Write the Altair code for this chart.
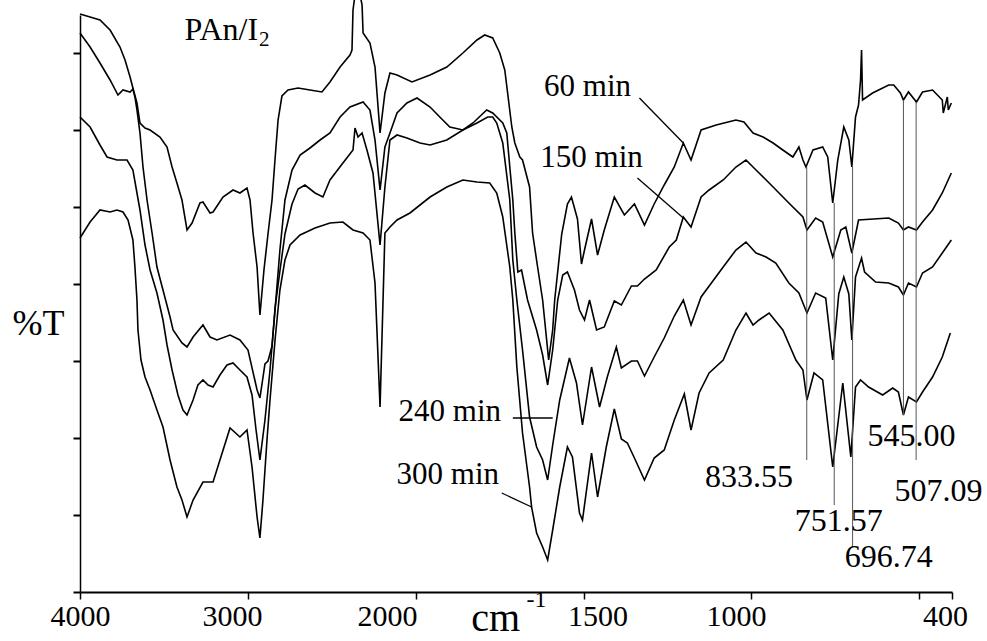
import altair as alt
import pandas as pd

# ---- data: wavenumber (cm-1), transmittance (arbitrary units of the unlabeled %T axis)
series_names = ["60 min", "150 min", "240 min", "300 min"]

s60 = [(4000,578),(3940,575),(3881,572),(3821,562),(3762,545),(3732,532),(3702,515),(3685,504),(3661,489),(3643,469),
       (3613,464),(3583,462),(3524,455),(3482,445),(3452,425),(3423,409),(3393,392),(3363,362),(3333,369),(3286,389),
       (3268,390),(3226,379),(3208,380),(3149,395),(3089,402),(3048,399),(3006,404),(2988,392),(2970,359),(2946,325),
       (2929,277),(2905,322),(2881,358),(2857,392),(2839,433),(2821,472),(2798,496),(2762,502),(2702,504),(2631,502),
       (2560,500),(2512,510),(2452,525),(2393,537),(2381,542),(2375,582),(2363,597),(2333,597),(2321,587),(2315,559),
       (2274,549),(2244,525),(2214,459),(2185,499),(2155,519),(2113,517),(2024,510),(1958,517),(1908,525),(1860,539),
       (1818,552),(1795,557),(1771,554),(1750,539),(1735,522),(1714,465),(1705,449),(1690,435),(1682,432),(1661,405),
       (1652,359),(1637,325),(1622,292),(1616,272),(1607,242),(1604,232),(1592,262),(1586,292),(1565,358),(1548,388),
       (1536,395),(1518,373),(1506,328),(1497,342),(1476,373),(1458,337),(1438,362),(1408,395),(1378,377),(1348,388),
       (1318,367),(1289,388),(1259,407),(1229,425),(1202,449),(1179,432),(1149,462),(1104,467),(1045,472),(1021,470),
       (994,459),(964,455),(934,449),(905,442),(875,435),(857,445),(845,432),(836,425),(815,442),(786,445),(771,435),
       (756,389),(741,432),(723,465),(708,452),(699,425),(688,475),(679,487),(673,512),(670,542),(667,492),(637,499),
       (589,507),(574,507),(554,499),(545,492),(530,500),(506,490),(488,500),(458,502),(429,492),(426,479),(414,495),
       (411,482),(402,489)]

s150 = [(4000,475),(3940,465),(3881,447),(3839,435),(3780,432),(3720,432),(3685,422),(3643,382),(3613,347),(3583,322),
        (3542,299),(3506,272),(3482,247),(3452,222),(3417,197),(3387,182),(3363,177),(3327,192),(3298,207),(3268,212),
        (3238,207),(3208,205),(3167,217),(3125,227),(3089,229),(3048,222),(3006,215),(2976,197),(2952,162),(2929,132),
        (2899,172),(2869,222),(2839,282),(2810,342),(2780,392),(2738,422),(2690,437),(2631,444),(2571,452),(2512,459),
        (2452,475),(2393,485),(2315,490),(2274,482),(2244,452),(2214,402),(2185,445),(2155,459),(2113,479),(2054,489),
        (1997,494),(1958,485),(1929,475),(1899,465),(1860,462),(1830,469),(1789,482),(1771,479),(1741,469),(1729,459),
        (1720,425),(1711,392),(1705,359),(1696,320),(1685,322),(1667,292),(1640,262),(1622,237),(1607,207),(1592,242),
        (1577,292),(1562,317),(1548,320),(1527,302),(1512,282),(1497,272),(1482,292),(1461,262),(1438,265),(1408,291),
        (1387,287),(1357,306),(1339,306),(1318,313),(1283,322),(1244,345),(1223,352),(1202,375),(1179,365),(1149,395),
        (1125,402),(1083,412),(1045,425),(1015,432),(985,422),(934,405),(887,389),(845,375),(833,362),(807,374),
        (786,370),(756,335),(732,362),(717,365),(699,339),(679,372),(589,374),(560,369),(545,362),(530,365),
        (506,362),(488,370),(458,382),(429,399),(402,419)]

s240 = [(4000,559),(3940,545),(3881,529),(3821,512),(3774,497),(3744,502),(3702,500),(3685,503),(3673,495),(3661,482),
        (3643,459),(3625,425),(3601,392),(3571,359),(3542,325),(3506,302),(3464,275),(3446,262),(3393,249),(3363,245),
        (3327,255),(3268,267),(3226,255),(3185,252),(3107,257),(3048,252),(3000,242),(2946,202),(2929,194),(2899,228),
        (2881,231),(2857,246),(2839,284),(2810,321),(2780,358),(2738,388),(2702,403),(2661,407),(2601,399),(2554,395),
        (2512,412),(2435,429),(2375,442),(2363,464),(2345,455),(2321,459),(2292,442),(2256,419),(2214,347),(2185,405),
        (2155,452),(2113,457),(2054,454),(1988,449),(1958,447),(1908,452),(1860,462),(1818,469),(1786,475),(1771,475),
        (1759,469),(1741,449),(1720,392),(1711,332),(1699,292),(1682,242),(1661,175),(1640,145),(1622,132),(1607,112),
        (1592,147),(1571,192),(1542,234),(1521,209),(1503,167),(1476,225),(1452,185),(1429,215),(1402,245),(1387,224),
        (1357,231),(1339,231),(1318,216),(1289,235),(1259,254),(1229,276),(1202,292),(1179,267),(1149,295),(1083,325),
        (1045,342),(1015,350),(985,339),(955,335),(926,329),(887,309),(857,299),(833,279),(807,299),(777,294),
        (756,232),(738,298),(723,315),(708,298),(699,252),(688,315),(670,334),(661,320),(628,310),(589,309),
        (560,305),(545,297),(530,309),(506,305),(488,319),(458,325),(429,339),(402,352)]

s300 = [(4000,354),(3940,370),(3881,382),(3821,380),(3780,382),(3744,380),(3714,372),(3685,352),(3673,325),(3661,292),
        (3655,262),(3637,232),(3613,215),(3583,202),(3542,182),(3506,165),(3464,132),(3423,105),(3393,92),(3363,75),
        (3327,92),(3268,110),(3208,110),(3167,132),(3107,164),(3048,155),(3006,162),(2976,125),(2946,75),(2929,54),
        (2911,92),(2887,152),(2869,192),(2839,252),(2810,302),(2780,332),(2750,347),(2690,357),(2601,364),(2512,369),
        (2435,370),(2375,362),(2315,359),(2274,352),(2244,309),(2214,185),(2185,359),(2155,365),(2113,372),(2036,379),
        (1958,395),(1908,405),(1860,412),(1818,410),(1780,409),(1759,399),(1741,375),(1720,325),(1711,292),(1699,225),
        (1682,159),(1661,105),(1655,85),(1640,59),(1622,45),(1607,32),(1592,62),(1571,105),(1548,145),(1533,135),
        (1512,79),(1503,72),(1476,139),(1458,95),(1432,145),(1408,183),(1387,153),(1369,149),(1348,134),(1318,112),
        (1289,134),(1259,142),(1229,172),(1199,198),(1179,162),(1155,199),(1125,219),(1083,232),(1045,262),(1015,279),
        (994,267),(976,272),(946,279),(905,262),(866,232),(845,222),(833,192),(812,219),(786,212),(756,125),
        (726,209),(702,135),(688,205),(673,212),(649,205),(607,197),(577,204),(560,200),(545,177),(530,195),
        (506,190),(488,200),(458,215),(429,235),(405,259)]

# peak markers
peak_wn = [833.55, 751.57, 696.74, 545.00, 507.09]
peak_top = [425, 389, 425, 492, 490]
peak_bottom = [132, 87, 45, 177, 132]
peak_text = ["833.55", "751.57", "696.74", "545.00", "507.09"]
peak_label_wn = [1006, 738, 589, 521, 440]
peak_label_T = [115, 71, 35, 156, 101]

# time labels with leader lines
time_text = ["60 min", "150 min", "240 min", "300 min"]
time_label_wn = [1488, 1476, 1899, 1905]
time_label_T = [505, 434, 180, 117]
leader_wn1 = [1333, 1339, 1711, 1744]
leader_T1 = [494, 414, 174, 99]
leader_wn2 = [1202, 1202, 1592, 1655]
leader_T2 = [449, 374, 174, 85]

x_ticks = [4000, 3000, 2000, 1500, 1000, 500, 400]

FONT = "Liberation Serif"

rows = []
for name, pts in zip(series_names, [s60, s150, s240, s300]):
    for i, (w, t) in enumerate(pts):
        rows.append({"series": name, "wn": w, "T": t, "i": i})
df = pd.DataFrame(rows)

xscale = alt.Scale(domain=[4000, 2000, 400], range=[0, 336, 872], nice=False, zero=False)
yscale = alt.Scale(domain=[0, 577], nice=False, zero=False)

# printed tick labels sit slightly off their ticks in the original figure
label_shift = {
    "condition": [
        {"test": "datum.value == 3000", "value": -16},
        {"test": "datum.value == 2000", "value": -29},
        {"test": "datum.value == 1500", "value": 14},
        {"test": "datum.value == 1000", "value": -15},
        {"test": "datum.value == 400", "value": -7},
    ],
    "value": 0,
}

xaxis = alt.Axis(values=x_ticks, labelExpr="datum.value == 500 ? '' : datum.label", format="d",
                 labelFont=FONT, labelFontSize=30, labelColor="black", tickColor="black",
                 domainColor="black", domainWidth=2, tickWidth=1.5, tickSize=7, labelPadding=2,
                 grid=False, title=None, labelFlush=False, labelOverlap=False,
                 labelOffset=label_shift)
yaxis = alt.Axis(values=[round(i * 577 / 15, 3) for i in range(16)], labelExpr="''", labelOverlap=False,
                 tickColor="black", domainColor="black", domainWidth=1.5, tickWidth=2, tickSize=7,
                 grid=False,
                 title="%T", titleAngle=0, titleFont=FONT, titleFontSize=36, titleFontWeight="normal",
                 titleColor="black", titleX=-42, titleY=308, titleAlign="center", titleBaseline="middle")

lines = alt.Chart(df).mark_line(color="black", strokeWidth=1.6).encode(
    x=alt.X("wn:Q", scale=xscale, axis=xaxis),
    y=alt.Y("T:Q", scale=yscale, axis=yaxis),
    detail="series:N",
    order="i:Q",
)

pk = pd.DataFrame({"wn": peak_wn, "T": peak_top, "T2": peak_bottom})
peaks = alt.Chart(pk).mark_rule(color="#555555", strokeWidth=1).encode(
    x="wn:Q", y="T:Q", y2="T2:Q")

pkl = pd.DataFrame({"wn": peak_label_wn, "T": peak_label_T, "txt": peak_text})
peak_labels = alt.Chart(pkl).mark_text(font=FONT, fontSize=32, color="black",
                                       align="center", baseline="middle").encode(
    x="wn:Q", y="T:Q", text="txt:N")

tl = pd.DataFrame({"wn": time_label_wn, "T": time_label_T, "txt": time_text})
time_labels = alt.Chart(tl).mark_text(font=FONT, fontSize=31, color="black",
                                      align="center", baseline="middle").encode(
    x="wn:Q", y="T:Q", text="txt:N")

ld = pd.DataFrame({"wn": leader_wn1, "T": leader_T1, "wn2": leader_wn2, "T2": leader_T2})
leaders = alt.Chart(ld).mark_rule(color="black", strokeWidth=1.3).encode(
    x="wn:Q", y="T:Q", x2="wn2:Q", y2="T2:Q")

misc = pd.DataFrame({
    "wn": [2940, 2934, 1762, 1640],
    "T": [552, 546, -39, -15],
    "txt": ["PAn/I", "2", "cm", "-1"],
})
misc_main = alt.Chart(misc.iloc[[0]]).mark_text(font=FONT, fontSize=32, color="black",
                                                align="right", baseline="alphabetic").encode(
    x="wn:Q", y="T:Q", text="txt:N")
misc_sub = alt.Chart(misc.iloc[[1]]).mark_text(font=FONT, fontSize=21, color="black",
                                               align="left", baseline="alphabetic").encode(
    x="wn:Q", y="T:Q", text="txt:N")
misc_cm = alt.Chart(misc.iloc[[2]]).mark_text(font=FONT, fontSize=40, color="black",
                                              align="center", baseline="alphabetic").encode(
    x="wn:Q", y="T:Q", text="txt:N")
misc_sup = alt.Chart(misc.iloc[[3]]).mark_text(font=FONT, fontSize=24, color="black",
                                               align="center", baseline="alphabetic").encode(
    x="wn:Q", y="T:Q", text="txt:N")

chart = alt.layer(lines, peaks, peak_labels, time_labels, leaders,
                  misc_main, misc_sub, misc_cm, misc_sup).properties(
    width=872, height=577,
    autosize=alt.AutoSizeParams(type="none"),
    padding={"left": 80, "top": 15, "right": 35, "bottom": 49},
    background="white",
).configure_view(stroke=None)

chart.save("out.html", embed_options={"renderer": "svg", "actions": False})
